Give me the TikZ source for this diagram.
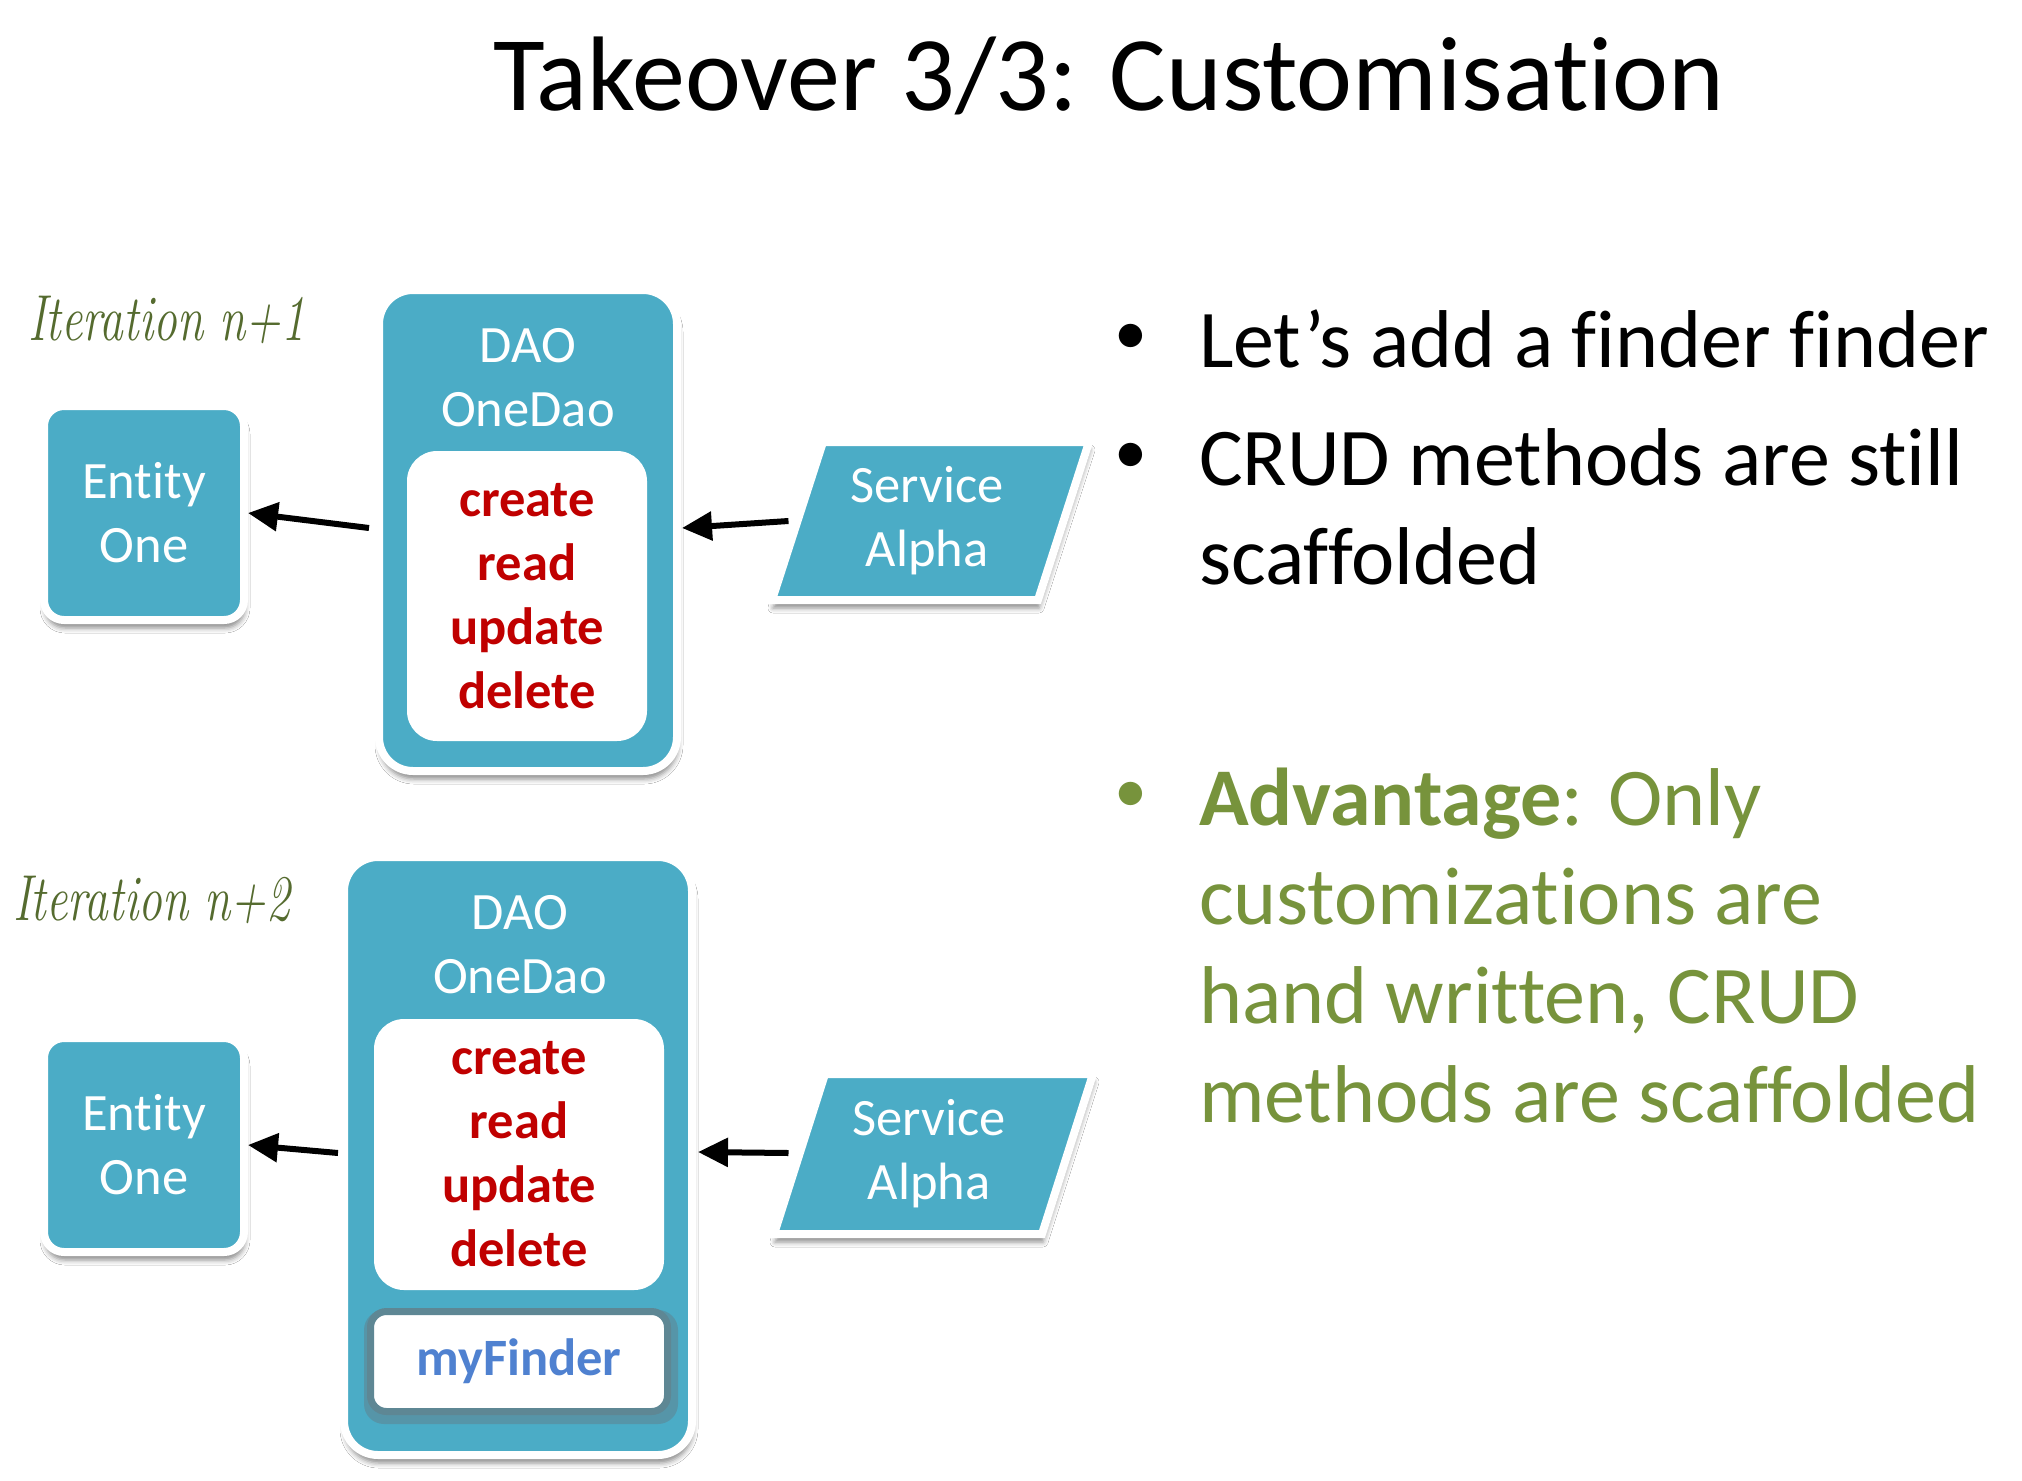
\documentclass[tikz,border=0pt]{standalone}
\usepackage{fontspec}
\usepackage{graphicx}
\newfontfamily\calibri[Ligatures=NoCommon]{Carlito}
\usetikzlibrary{arrows.meta,calc,shadows.blur}
\definecolor{tealbg}{HTML}{4BACC6}
\definecolor{crudred}{HTML}{C00000}
\definecolor{finderblue}{HTML}{4F81D0}
\definecolor{olivegreen}{HTML}{77933C}
\definecolor{handgreen}{HTML}{556B2F}
\definecolor{glowgray}{HTML}{5E8794}

\begin{document}
\begin{tikzpicture}[x=1pt,y=-1pt,
  every node/.style={font=\calibri, inner sep=0pt, outer sep=0pt},
  softshadow/.style={blur shadow={shadow xshift=1pt, shadow yshift=-8pt,
      shadow blur radius=5pt, shadow opacity=45}},
  tealbox/.style={fill=tealbg, draw=white, line width=8pt,
      rounded corners=#1, outer sep=4pt, softshadow},
  tealbox/.default=20pt,
  whitebox/.style={fill=white, rounded corners=30pt},
  boxtext/.style={text=white, align=center,
      font=\calibri\fontsize{52.5}{64}\selectfont},
  crudtext/.style={text=crudred, align=center,
      font=\calibri\bfseries\fontsize{52.5}{64}\selectfont},
  servshape/.style={fill=tealbg, draw=white, line width=8pt,
      line join=miter, softshadow},
  arr/.style={-{Triangle[length=30pt,width=28pt]}, line width=6pt, black},
  handnote/.style={text=handgreen, anchor=base west,
      font=\rmfamily\itshape\fontsize{65}{65}\selectfont},
  bullettext/.style={font=\calibri\fontsize{82}{99}\selectfont, align=left},
  bulletdot/.style={font=\calibri\fontsize{66}{66}\selectfont, anchor=center},
]
\fill[white] (0,0) rectangle (2022,1481);
\useasboundingbox (0,0) rectangle (2022,1481);

% title
\node[anchor=base, font=\calibri\fontsize{106}{120}\selectfont] (title)
  at (1109,110) {Takeover 3/3: Customisation};

% ---------- iteration n+1 ----------
\node[handnote] (it1) at (28,340) {\scalebox{0.73}[1]{Iteration n+1}};

\node[tealbox, boxtext, minimum width=200pt, minimum height=214pt] (ent1)
  at (144,513) {Entity\\One};

\node[tealbox=34pt, minimum width=298pt, minimum height=481pt] (dao1)
  at (528,530.5) {};
\node[boxtext] (daolbl1) at (528,378) {DAO\\OneDao};
\node[whitebox, crudtext, minimum width=240pt, minimum height=290pt] (crud1)
  at (527,596) {create\\read\\update\\delete};

\path[servshape] (929,521) ++(-106,-79) -- ++(266,0) -- ++(-51,158)
  -- ++(-266,0) -- cycle;
\node[boxtext, minimum width=271pt, minimum height=158pt] (svc1)
  at (927,521) {Service\\Alpha};

\draw[arr] ($(dao1.west)+(-6,-2.5)$) -- (ent1.east);
\draw[arr] ($(svc1.west)+(-3,0)$) -- ($(dao1.east)+(1,-2.5)$);

% ---------- iteration n+2 ----------
\node[handnote] (it2) at (13,920) {\scalebox{0.73}[1]{Iteration n+2}};

\node[tealbox, boxtext, minimum width=200pt, minimum height=214pt] (ent2)
  at (144,1145) {Entity\\One};

\node[tealbox=34pt, minimum width=348pt, minimum height=598pt] (dao2)
  at (518,1156) {};
\node[boxtext] (daolbl2) at (520,945) {DAO\\OneDao};
\node[whitebox, crudtext, minimum width=290pt, minimum height=271pt] (crud2)
  at (519,1154.5) {create\\read\\update\\delete};

% custom finder: white slot with a dark halo
\node[fill=glowgray, opacity=0.6, rounded corners=20pt,
  minimum width=314pt, minimum height=114pt] (halo) at (521,1367) {};
\node[fill=white, draw=glowgray, line width=7pt, rounded corners=16pt,
  minimum width=297pt, minimum height=100pt, text=finderblue,
  font=\calibri\bfseries\fontsize{52.5}{64}\selectfont] (finder)
  at (519,1361.5) {myFinder};

\path[servshape] (931,1154) ++(-106,-80) -- ++(268,0) -- ++(-51,160)
  -- ++(-268,0) -- cycle;
\node[boxtext, minimum width=271pt, minimum height=160pt] (svc2)
  at (929,1154) {Service\\Alpha};

\draw[arr] ($(dao2.west)+(-2,-3)$) -- (ent2.east);
\draw[arr] ($(svc2.west)+(-5,-1)$) -- ($(dao2.east)+(2,-4)$);

% ---------- bullet points (multi-line nodes sit on their last baseline) ----------
\node[bulletdot] (dot1) at (1131,339) {•};
\node[bullettext, anchor=base west] (pt1) at (1199,367)
  {Let’s add a finder finder};
\node[bulletdot] (dot2) at (1131,458) {•};
\node[bullettext, anchor=base west] (pt2) at (1199,584)
  {CRUD methods are still\\scaffolded};
\node[bulletdot, text=olivegreen] (dot3) at (1131,797) {•};
\node[bullettext, text=olivegreen, anchor=base west] (pt3) at (1199,1122)
  {\textbf{Advantage}: Only\\customizations are\\hand written, CRUD\\methods are scaffolded};
\end{tikzpicture}
\end{document}
